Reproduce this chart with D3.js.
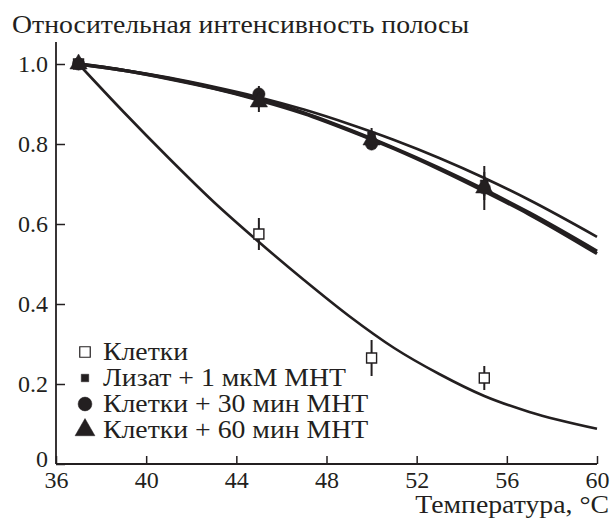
<!DOCTYPE html>
<html>
<head>
<meta charset="utf-8">
<script src="https://cdn.jsdelivr.net/npm/d3@7"></script>
</head>
<body style="margin:0">
<svg id="chart" width="612" height="521"></svg>
<script>
// measured points
var temps = [37, 45, 50, 55];
var cellsVals = [1.0, 0.575, 0.265, 0.215];
var cellsErr = [0, 0.04, 0.045, 0.03];
var lysateVals = [1.0, 0.92, 0.82, 0.70];
var lysateErr = [0, 0.02, 0.02, 0.03];
var cells30Vals = [1.0, 0.925, 0.80, 0.69];
var cells30Err = [0, 0.02, 0.015, 0.03];
var cells60Vals = [1.0, 0.905, 0.81, 0.69];
var cells60Err = [0.01, 0.025, 0.02, 0.055];

// fitted curves
var fitT = [37, 39, 41, 43, 45, 47, 49, 51, 53, 55, 57, 60];
var cellsFit = [1.0, 0.88, 0.765, 0.655, 0.555, 0.46, 0.37, 0.29, 0.225, 0.17, 0.13, 0.088];
var lysateFit = [1.0, 0.985, 0.966, 0.943, 0.917, 0.886, 0.85, 0.81, 0.765, 0.715, 0.66, 0.568];
var cells30Fit = [1.0, 0.984, 0.964, 0.94, 0.912, 0.878, 0.836, 0.79, 0.74, 0.686, 0.628, 0.532];
var cells60Fit = [1.0, 0.984, 0.963, 0.939, 0.91, 0.876, 0.834, 0.788, 0.737, 0.682, 0.624, 0.526];

var xTicks = [36, 40, 44, 48, 52, 56, 60];
var yTicks = [0, 0.2, 0.4, 0.6, 0.8, 1.0];
var legendLabels = ["Клетки", "Лизат + 1 мкМ МНТ", "Клетки + 30 мин МНТ", "Клетки + 60 мин МНТ"];

var svg = d3.select("#chart");
var ink = "#231f20";
var serif = "'Liberation Serif'";

// the original face is wider than Liberation Serif for Cyrillic
function widen(sel, k) {
    sel.each(function () {
        var w = this.getComputedTextLength();
        d3.select(this).attr("textLength", w * k).attr("lengthAdjust", "spacingAndGlyphs");
    });
}

var x = d3.scaleLinear().domain([36, 60]).range([56, 597]);
var y = d3.scaleLinear().domain([0, 1.0]).range([464, 64]);

// axes
var xAxis = svg.append("g")
    .attr("transform", "translate(0," + y(0) + ")")
    .call(d3.axisBottom(x).tickValues(xTicks).tickSizeInner(-8).tickSizeOuter(0).tickPadding(12)
        .tickFormat(function (d) { return d; }));
xAxis.attr("font-family", null).attr("font-size", null);
xAxis.select(".domain").remove();
xAxis.selectAll(".tick line").attr("stroke", ink).attr("stroke-width", 1.5);
xAxis.selectAll(".tick text").attr("font-size", 24).style("font-family", serif)
    .attr("fill", ink).attr("dy", "0.9em").attr("y", 2);

var yAxis = svg.append("g")
    .attr("transform", "translate(" + x(36) + ",0)")
    .call(d3.axisLeft(y).tickValues(yTicks).tickSizeInner(-9).tickSizeOuter(0).tickPadding(8)
        .tickFormat(function (d) { return d === 0 ? "0" : d3.format(".1f")(d); }));
yAxis.attr("font-family", null).attr("font-size", null);
yAxis.select(".domain").remove();
yAxis.selectAll(".tick line").attr("stroke", ink).attr("stroke-width", 1.5);
yAxis.selectAll(".tick text").attr("font-size", 24).style("font-family", serif)
    .attr("fill", ink).attr("x", -8);
yAxis.selectAll(".tick").filter(function (d) { return d === 0; }).select("text").attr("dy", "0.1em");

// axis lines
svg.append("line").attr("x1", x(36)).attr("x2", x(60)).attr("y1", y(0)).attr("y2", y(0))
    .attr("stroke", ink).attr("stroke-width", 1.8);
svg.append("line").attr("x1", x(36)).attr("x2", x(36)).attr("y1", y(0)).attr("y2", y(1.0) - 22)
    .attr("stroke", ink).attr("stroke-width", 1.8);

// titles
svg.append("text").attr("x", 12).attr("y", 33).attr("fill", ink)
    .attr("font-size", 25).style("font-family", serif)
    .text("Относительная интенсивность полосы")
    .call(widen, 1.11);
svg.append("text").attr("x", 609).attr("y", 513).attr("fill", ink).attr("text-anchor", "end")
    .attr("font-size", 25).style("font-family", serif)
    .text("Температура, °C")
    .call(widen, 1.11);

// fit curves
var line = d3.line()
    .x(function (d) { return x(d[0]); })
    .y(function (d) { return y(d[1]); })
    .curve(d3.curveMonotoneX);
function fit(vals) { return fitT.map(function (t, i) { return [t, vals[i]]; }); }

svg.append("path").datum(fit(cellsFit)).attr("d", line)
    .attr("fill", "none").attr("stroke", ink).attr("stroke-width", 2.6);
svg.append("path").datum(fit(lysateFit)).attr("d", line)
    .attr("fill", "none").attr("stroke", ink).attr("stroke-width", 2.6);
svg.append("path").datum(fit(cells30Fit)).attr("d", line)
    .attr("fill", "none").attr("stroke", ink).attr("stroke-width", 3.4);
svg.append("path").datum(fit(cells60Fit)).attr("d", line)
    .attr("fill", "none").attr("stroke", ink).attr("stroke-width", 3.4);

// points with error bars
var series = [
    { vals: cellsVals, err: cellsErr, type: d3.symbolSquare, size: 100, open: true },
    { vals: lysateVals, err: lysateErr, type: d3.symbolSquare, size: 64, open: false },
    { vals: cells30Vals, err: cells30Err, type: d3.symbolCircle, size: 120, open: false },
    { vals: cells60Vals, err: cells60Err, type: d3.symbolTriangle, size: 130, open: false }
];

series.forEach(function (s) {
    var pts = temps.map(function (t, i) { return { t: t, v: s.vals[i], e: s.err[i] }; });
    var g = svg.append("g");
    g.selectAll("line").data(pts).enter().append("line")
        .attr("x1", function (d) { return x(d.t); })
        .attr("x2", function (d) { return x(d.t); })
        .attr("y1", function (d) { return y(d.v - d.e); })
        .attr("y2", function (d) { return y(d.v + d.e); })
        .attr("stroke", ink).attr("stroke-width", 2);
    g.selectAll("path").data(pts).enter().append("path")
        .attr("d", d3.symbol().type(s.type).size(s.size))
        .attr("transform", function (d) { return "translate(" + x(d.t) + "," + y(d.v) + ")"; })
        .attr("fill", s.open ? "#fff" : ink)
        .attr("stroke", ink).attr("stroke-width", s.open ? 1.4 : 0.5);
});

// legend
var legend = svg.append("g").attr("transform", "translate(85,352)");
legendLabels.forEach(function (lab, i) {
    var s = series[i];
    var row = legend.append("g").attr("transform", "translate(0," + (i * 26) + ")");
    row.append("path")
        .attr("d", d3.symbol().type(s.type).size(i === 0 ? 110 : (i === 1 ? 56 : (i === 2 ? 150 : 170))))
        .attr("fill", s.open ? "#fff" : ink)
        .attr("stroke", ink).attr("stroke-width", s.open ? 1.2 : 0.5);
    row.append("text").attr("x", 18).attr("y", 7.5).attr("fill", ink)
        .attr("font-size", 25).style("font-family", serif).text(lab)
        .call(widen, 1.11);
});
</script>
</body>
</html>
